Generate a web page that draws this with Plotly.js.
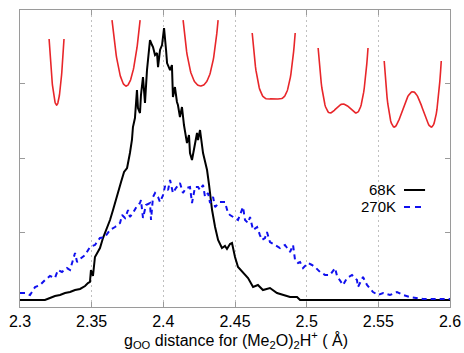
<!DOCTYPE html>
<html>
<head>
<meta charset="utf-8">
<script src="https://cdn.plot.ly/plotly-3.0.1.min.js"></script>
<style>html,body{margin:0;padding:0;background:#fff;}#chart{width:464px;height:353px;}</style>
</head>
<body>
<div id="chart"></div>
<script>
// g_OO distribution, 68 K (solid black)
var x68 = [2.3000,2.3174,2.3209,2.3244,2.3279,2.3314,2.3349,2.3384,2.3419,2.3454,2.3474,2.3488,2.3495,2.3509,2.3523,2.3544,2.3558,2.3579,2.3593,2.3614,2.3628,2.3649,2.3663,2.3684,2.3705,2.3726,2.3747,2.3767,2.3781,2.3788,2.3802,2.3816,2.3823,2.3837,2.3844,2.3858,2.3872,2.3886,2.3907,2.3921,2.3928,2.3942,2.3956,2.3963,2.3977,2.3991,2.4005,2.4019,2.4026,2.4047,2.4060,2.4067,2.4081,2.4095,2.4102,2.4116,2.4130,2.4144,2.4151,2.4165,2.4179,2.4186,2.4200,2.4221,2.4235,2.4242,2.4256,2.4277,2.4291,2.4305,2.4319,2.4326,2.4340,2.4361,2.4382,2.4409,2.4430,2.4444,2.4465,2.4479,2.4493,2.4500,2.4521,2.4556,2.4591,2.4626,2.4660,2.4695,2.4744,2.4793,2.4835,2.4884,2.4933,2.4954,2.6000];
var y68 = [0.094,0.094,0.121,0.148,0.161,0.188,0.201,0.228,0.242,0.282,0.322,0.336,0.497,0.416,0.671,0.738,0.792,0.926,0.993,1.101,1.168,1.302,1.396,1.570,1.678,1.812,1.866,2.067,2.242,2.416,2.537,2.913,2.671,2.604,2.846,3.087,2.738,3.181,3.584,3.517,3.490,3.383,3.409,3.221,3.450,3.517,3.745,3.450,3.275,3.181,3.248,2.819,2.953,2.752,2.711,2.550,2.685,2.443,2.376,2.201,2.309,2.067,1.973,2.201,2.336,2.242,2.376,2.067,1.933,1.839,1.638,1.530,1.302,1.074,0.899,0.792,0.819,0.779,0.846,0.859,0.738,0.671,0.537,0.470,0.389,0.268,0.295,0.228,0.255,0.188,0.161,0.134,0.134,0.094,0.094];

// g_OO distribution, 270 K (dashed blue)
var x270 = [2.3000,2.3035,2.3070,2.3105,2.3140,2.3174,2.3209,2.3244,2.3265,2.3293,2.3328,2.3349,2.3384,2.3398,2.3419,2.3454,2.3488,2.3523,2.3558,2.3593,2.3628,2.3663,2.3698,2.3712,2.3733,2.3754,2.3767,2.3788,2.3816,2.3837,2.3844,2.3858,2.3879,2.3907,2.3914,2.3928,2.3942,2.3963,2.3977,2.3998,2.4012,2.4033,2.4047,2.4067,2.4088,2.4116,2.4137,2.4158,2.4186,2.4200,2.4221,2.4242,2.4256,2.4277,2.4291,2.4312,2.4326,2.4347,2.4361,2.4395,2.4430,2.4451,2.4465,2.4486,2.4521,2.4556,2.4570,2.4591,2.4605,2.4626,2.4654,2.4674,2.4688,2.4709,2.4723,2.4744,2.4779,2.4814,2.4849,2.4884,2.4905,2.4919,2.4940,2.4954,2.4975,2.5009,2.5037,2.5058,2.5093,2.5128,2.5163,2.5198,2.5212,2.5233,2.5254,2.5281,2.5316,2.5351,2.5358,2.5393,2.5421,2.5463,2.5498,2.5533,2.5581,2.5630,2.5672,2.5721,2.5770,2.5812,2.5861,2.5909,2.5951,2.6000];
var y270 = [0.188,0.188,0.161,0.268,0.295,0.362,0.416,0.389,0.497,0.470,0.523,0.497,0.725,0.604,0.644,0.698,0.805,0.832,0.926,0.940,1.034,1.074,1.128,1.235,1.195,1.302,1.208,1.262,1.356,1.396,1.436,1.195,1.369,1.396,1.168,1.477,1.530,1.477,1.409,1.503,1.624,1.570,1.705,1.530,1.597,1.664,1.530,1.597,1.611,1.396,1.611,1.611,1.570,1.638,1.477,1.530,1.396,1.477,1.342,1.409,1.409,1.262,1.235,1.208,1.168,1.342,1.168,1.128,1.208,1.034,1.074,0.966,0.899,0.926,1.007,0.872,0.832,0.792,0.832,0.738,0.832,0.631,0.591,0.604,0.523,0.591,0.564,0.537,0.470,0.430,0.430,0.523,0.416,0.362,0.295,0.389,0.430,0.362,0.268,0.403,0.295,0.201,0.161,0.188,0.161,0.201,0.161,0.134,0.121,0.107,0.107,0.107,0.107,0.107];

// Proton potential insets (one per g_OO value)
var potCenter    = [2.3255, 2.374, 2.426, 2.477, 2.5254, 2.574];
var potHalfWidth = [0.0052, 0.0098, 0.0122, 0.0150, 0.0174, 0.0199];
var potTop       = [3.597, 3.852, 3.852, 3.678, 3.477, 3.302];
var potDepth     = [0.886, 0.886, 0.886, 0.886, 0.872, 0.886];
var potQuartic   = [0.0, 0.1, 0.5, 1.15, 1.88, 3.0];
var potQuadratic = [1.0, 0.9, 0.5, -0.15, -1.017, -2.535];

var xTicks = [2.3, 2.35, 2.4, 2.45, 2.5, 2.55, 2.6];
var xTickText = ['2.3', '2.35', '2.4', '2.45', '2.5', '2.55', '2.6'];
var seriesNames = ['68K', '270K'];
var xTitle = 'g<sub>OO</sub> distance for (Me<sub>2</sub>O)<sub>2</sub>H<sup>+</sup> ( Å)';

var traces = [];
for (var i = 0; i < potCenter.length; i++) {
  var px = [], pv = [];
  var vmin = Infinity, v1 = potQuartic[i] + potQuadratic[i];
  for (var k = 0; k <= 80; k++) {
    var q = -1 + 2 * k / 80;
    var v = potQuartic[i] * Math.pow(q, 4) + potQuadratic[i] * q * q;
    if (v < vmin) vmin = v;
    px.push(potCenter[i] + q * potHalfWidth[i]);
    pv.push(v);
  }
  var py = pv.map(function (v) { return potTop[i] - potDepth[i] * (v1 - v) / (v1 - vmin); });
  traces.push({x: px, y: py, type: 'scatter', mode: 'lines', showlegend: false,
    line: {color: '#e8262a', width: 1.6}, hoverinfo: 'skip'});
}
traces.push({x: x68, y: y68, name: seriesNames[0], type: 'scatter', mode: 'lines',
  line: {color: '#000000', width: 2}});
traces.push({x: x270, y: y270, name: seriesNames[1], type: 'scatter', mode: 'lines',
  line: {color: '#1010ee', width: 2, dash: '5px,4px'}});

var layout = {
  width: 464, height: 353,
  margin: {l: 20, r: 14, t: 10, b: 46},
  paper_bgcolor: '#ffffff', plot_bgcolor: '#ffffff',
  showlegend: false,
  font: {family: 'Liberation Sans, Arial, sans-serif', color: '#000', size: 16},
  xaxis: {
    range: [2.3, 2.6], tickvals: xTicks, ticktext: xTickText,
    showgrid: true, gridcolor: '#c0c0c0', griddash: '2px,3px', gridwidth: 1,
    zeroline: false, showline: true, mirror: 'ticks', linecolor: '#9a9a9a', linewidth: 1,
    ticks: 'inside', ticklen: 5, tickcolor: '#9a9a9a',
    tickfont: {size: 16}, ticklabelstandoff: 0
  },
  yaxis: {
    range: [0, 3.987], tickvals: [1, 2, 3], showticklabels: false,
    showgrid: false, zeroline: false, showline: true, mirror: 'ticks',
    linecolor: '#9a9a9a', linewidth: 1, ticks: 'inside', ticklen: 5, tickcolor: '#9a9a9a'
  },
  annotations: [
    {xref: 'paper', yref: 'paper', x: 0.879, y: 0.394, xanchor: 'right', yanchor: 'middle',
      text: seriesNames[0], showarrow: false, font: {size: 15}},
    {xref: 'paper', yref: 'paper', x: 0.879, y: 0.337, xanchor: 'right', yanchor: 'middle',
      text: seriesNames[1], showarrow: false, font: {size: 15}},
    {xref: 'paper', yref: 'paper', x: 0.503, y: -0.1515, xanchor: 'center', yanchor: 'bottom',
      text: xTitle, showarrow: false, font: {size: 16}, borderpad: 0}
  ],
  shapes: [
    {type: 'line', xref: 'paper', yref: 'paper', x0: 0.893, x1: 0.942, y0: 0.394, y1: 0.394,
      line: {color: '#000', width: 2}},
    {type: 'line', xref: 'paper', yref: 'paper', x0: 0.893, x1: 0.942, y0: 0.337, y1: 0.337,
      line: {color: '#1010ee', width: 2, dash: '6px,5px'}}
  ]
};

Plotly.newPlot('chart', traces, layout, {displayModeBar: false, staticPlot: true});
</script>
</body>
</html>
